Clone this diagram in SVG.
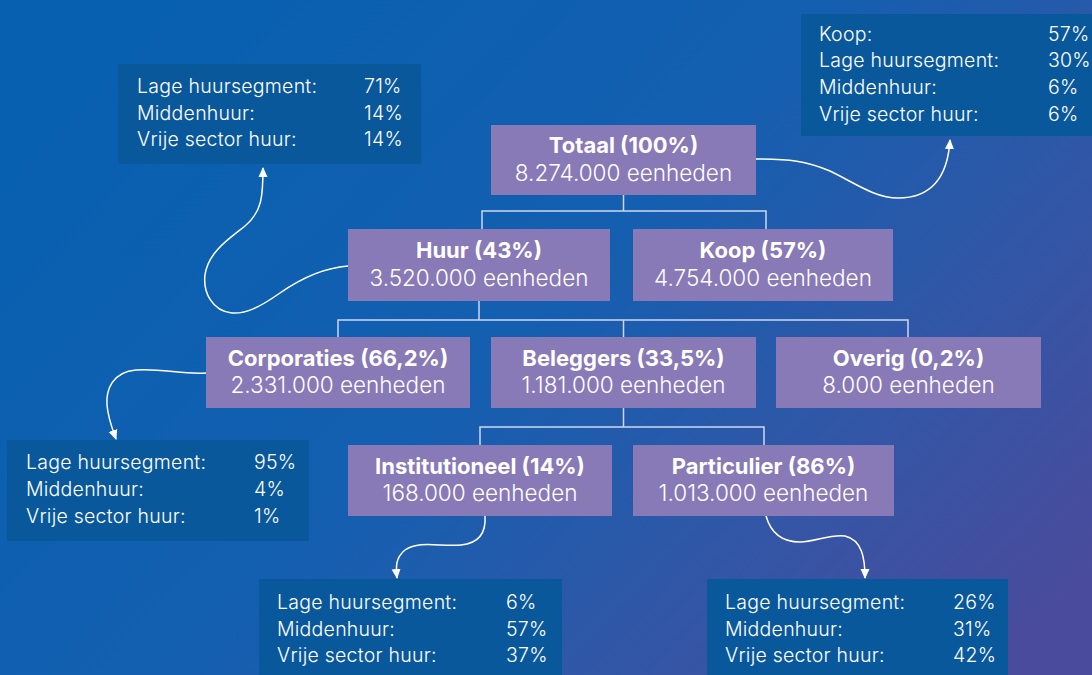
<svg xmlns="http://www.w3.org/2000/svg" width="1092" height="675" viewBox="0 0 1092 675">
  <defs>
    <linearGradient id="bg" x1="0" y1="0.25" x2="1" y2="0.85">
      <stop offset="0" stop-color="#0860b0"/>
      <stop offset="0.45" stop-color="#145fb0"/>
      <stop offset="0.75" stop-color="#3356a6"/>
      <stop offset="1" stop-color="#4a4b9c"/>
    </linearGradient>
    <marker id="arrow" viewBox="0 0 10 10" refX="9" refY="5" markerWidth="10" markerHeight="10" markerUnits="userSpaceOnUse" orient="auto">
      <path d="M0,0.5 L10,5 L0,9.5 Z" fill="#ffffff"/>
    </marker>
    <style>
      .node rect { fill: #8879b7; }
      .info rect { fill: #0a589c; }
      .title { font-family: Inter, "Liberation Sans", sans-serif; font-weight: 700; font-size: 22px; fill: #ffffff; text-anchor: middle; }
      .sub { font-family: Inter, "Liberation Sans", sans-serif; font-weight: 300; font-size: 22.5px; fill: #ffffff; text-anchor: middle; }
      .info text { font-family: Inter, "Liberation Sans", sans-serif; font-weight: 300; font-size: 19.5px; letter-spacing: 0.25px; fill: #ffffff; }
      .tree { fill: none; stroke: #cfd6ee; stroke-width: 1.5; }
      .curve { fill: none; stroke: #ffffff; stroke-width: 1.5; marker-end: url(#arrow); }
    </style>
  </defs>

  <rect x="0" y="0" width="1092" height="675" fill="url(#bg)"/>

  <!-- connectors -->
  <g id="connectors">
    <path class="tree" d="M623.5,195 V211 M482,229 V211 H766 V229"/>
    <path class="tree" d="M479,301 V320 M338,337 V320 H908 V337 M623.5,320 V337"/>
    <path class="tree" d="M623.5,408 V427 M480,445 V427 H764 V445"/>
    <path class="curve" d="M348,266 C322,268 300,279 280,293 C260,307 246,314 232,313 C212,311 203,292 205,275 C208,252 230,238 245,226 C262,212 263,196 263,168"/>
    <path class="curve" d="M756,159 C790,159 806,161 830,171 C855,183 875,198 898,198 C935,198 948,172 950,140"/>
    <path class="curve" d="M206,373 C185,375 160,368 136,370 C112,372 106,390 107,405 C108,418 112,428 116,439"/>
    <path class="curve" d="M485,516 C486,530 481,543 461,545 C440,547 420,540 405,550 C395,558 396,568 397,578"/>
    <path class="curve" d="M766,516 C770,530 780,542 800,542 C815,542 830,534 845,536 C862,540 865,558 865,578"/>
  </g>

  <!-- tree nodes -->
  <g id="totaal" class="node">
    <rect x="491" y="125" width="265" height="70"/>
    <text class="title" x="623.5" y="153">Totaal (100%)</text>
    <text class="sub" x="623.5" y="181">8.274.000 eenheden</text>
  </g>
  <g id="huur" class="node">
    <rect x="348" y="229" width="262" height="72"/>
    <text class="title" x="479" y="258">Huur (43%)</text>
    <text class="sub" x="479" y="286">3.520.000 eenheden</text>
  </g>
  <g id="koop" class="node">
    <rect x="633" y="229" width="260" height="72"/>
    <text class="title" x="763" y="258">Koop (57%)</text>
    <text class="sub" x="763" y="286">4.754.000 eenheden</text>
  </g>
  <g id="corporaties" class="node">
    <rect x="206" y="337" width="264" height="71"/>
    <text class="title" x="338" y="366">Corporaties (66,2%)</text>
    <text class="sub" x="338" y="393">2.331.000 eenheden</text>
  </g>
  <g id="beleggers" class="node">
    <rect x="491" y="337" width="265" height="71"/>
    <text class="title" x="623.5" y="366">Beleggers (33,5%)</text>
    <text class="sub" x="623.5" y="393">1.181.000 eenheden</text>
  </g>
  <g id="overig" class="node">
    <rect x="776" y="337" width="265" height="71"/>
    <text class="title" x="908.5" y="366">Overig (0,2%)</text>
    <text class="sub" x="908.5" y="393">8.000 eenheden</text>
  </g>
  <g id="institutioneel" class="node">
    <rect x="348" y="445" width="264" height="71"/>
    <text class="title" x="480" y="474">Institutioneel (14%)</text>
    <text class="sub" x="480" y="501">168.000 eenheden</text>
  </g>
  <g id="particulier" class="node">
    <rect x="633" y="445" width="261" height="71"/>
    <text class="title" x="763.5" y="474">Particulier (86%)</text>
    <text class="sub" x="763.5" y="501">1.013.000 eenheden</text>
  </g>

  <!-- segment breakdown boxes -->
  <g id="info-huur" class="info">
    <rect x="118" y="64" width="303" height="100"/>
    <text x="137" y="93">Lage huursegment:</text><text x="364" y="93">71%</text>
    <text x="137" y="120">Middenhuur:</text><text x="364" y="120">14%</text>
    <text x="137" y="146">Vrije sector huur:</text><text x="364" y="146">14%</text>
  </g>
  <g id="info-totaal" class="info">
    <rect x="801" y="14" width="291" height="122"/>
    <text x="819" y="41">Koop:</text><text x="1048" y="41">57%</text>
    <text x="819" y="67">Lage huursegment:</text><text x="1048" y="67">30%</text>
    <text x="819" y="94">Middenhuur:</text><text x="1048" y="94">6%</text>
    <text x="819" y="121">Vrije sector huur:</text><text x="1048" y="121">6%</text>
  </g>
  <g id="info-corporaties" class="info">
    <rect x="7" y="440" width="302" height="101"/>
    <text x="26" y="469">Lage huursegment:</text><text x="254" y="469">95%</text>
    <text x="26" y="496">Middenhuur:</text><text x="254" y="496">4%</text>
    <text x="26" y="523">Vrije sector huur:</text><text x="254" y="523">1%</text>
  </g>
  <g id="info-institutioneel" class="info">
    <rect x="259" y="579" width="303" height="96"/>
    <text x="277" y="609">Lage huursegment:</text><text x="506" y="609">6%</text>
    <text x="277" y="636">Middenhuur:</text><text x="506" y="636">57%</text>
    <text x="277" y="662">Vrije sector huur:</text><text x="506" y="662">37%</text>
  </g>
  <g id="info-particulier" class="info">
    <rect x="707" y="579" width="301" height="96"/>
    <text x="725" y="609">Lage huursegment:</text><text x="953" y="609">26%</text>
    <text x="725" y="636">Middenhuur:</text><text x="953" y="636">31%</text>
    <text x="725" y="662">Vrije sector huur:</text><text x="953" y="662">42%</text>
  </g>
</svg>
